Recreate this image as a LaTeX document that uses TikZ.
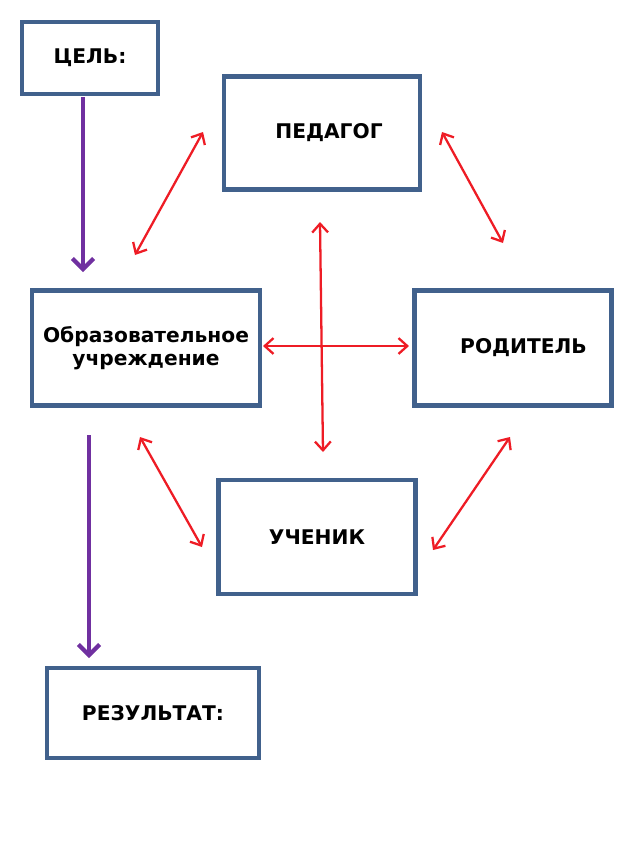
\documentclass[tikz,border=0pt]{standalone}
\usepackage{fontspec}
\setmainfont{DejaVu Sans}
\usetikzlibrary{arrows.meta}
\definecolor{boxblue}{HTML}{41618C}
\definecolor{arrred}{HTML}{EE1C25}
\definecolor{arrpurple}{HTML}{7030A0}
\tikzset{
  box/.style={draw=boxblue, line width=2.4pt, fill=white, inner sep=0pt,
    font=\bfseries\fontsize{11.5}{13}\selectfont, align=center},
  link/.style={draw=arrred, line width=1.3pt,
    {Straight Barb[length=5pt,width=9pt]}-{Straight Barb[length=5pt,width=9pt]}},
  flow/.style={draw=arrpurple, line width=2.4pt, -{Straight Barb[length=6pt,width=12pt]}}
}
\begin{document}
\begin{tikzpicture}[x=0.02cm, y=-0.02cm]
    \useasboundingbox (0,0) rectangle (640,853);
    % boxes
    \node[box, minimum width=136*0.02cm, minimum height=72*0.02cm] (goal) at (90,58) {ЦЕЛЬ:};
    \node[box, minimum width=196*0.02cm, minimum height=113*0.02cm] (teacher) at (322,133) {\hspace*{8pt}ПЕДАГОГ};
    \node[box, minimum width=228*0.02cm, minimum height=115*0.02cm] (school) at (146,348) {Образовательное\\ учреждение};
    \node[box, minimum width=197*0.02cm, minimum height=115*0.02cm] (parent) at (513,348) {\hspace*{12pt}РОДИТЕЛЬ};
    \node[box, minimum width=197*0.02cm, minimum height=114*0.02cm] (pupil) at (317,537) {УЧЕНИК};
    \node[box, minimum width=212*0.02cm, minimum height=90*0.02cm] (result) at (153,713) {РЕЗУЛЬТАТ:};

    % free ends
    \coordinate (g1) at (83,97);   \coordinate (g2) at (83,272);
    \coordinate (r1) at (89,435);  \coordinate (r2) at (89,658);
    \coordinate (a1) at (203,132); \coordinate (a2) at (135,255);
    \coordinate (b1) at (442,132); \coordinate (b2) at (503,243);
    \coordinate (c1) at (320,222); \coordinate (c2) at (323,452);
    \coordinate (d1) at (263,346); \coordinate (d2) at (409,346);
    \coordinate (e1) at (140,437); \coordinate (e2) at (202,547);
    \coordinate (f1) at (510,437); \coordinate (f2) at (433,550);

    % connectors
    \draw[flow] (g1) -- (g2);
    \draw[flow] (r1) -- (r2);
    \draw[link] (a1) -- (a2);
    \draw[link] (b1) -- (b2);
    \draw[link] (c1) -- (c2);
    \draw[link] (d1) -- (d2);
    \draw[link] (e1) -- (e2);
    \draw[link] (f1) -- (f2);
\end{tikzpicture}
\end{document}
